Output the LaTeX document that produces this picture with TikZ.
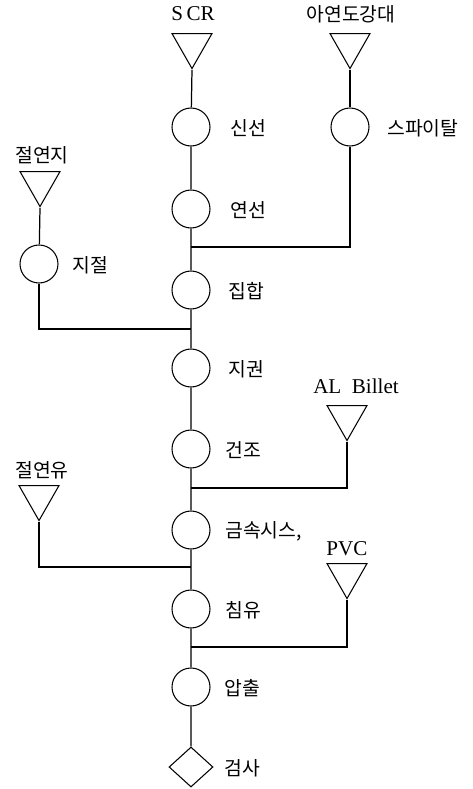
\documentclass[tikz,border=0pt]{standalone}
\usepackage{fontspec}
\setmainfont{Liberation Serif}
\newfontfamily\kr{Noto Sans CJK KR}
\usetikzlibrary{shapes.geometric}

\begin{document}
\begin{tikzpicture}[
    x=0.02cm, y=-0.02cm,
    proc/.style={
      draw, circle, minimum size=0.76cm, inner sep=0pt, line width=0.6pt
    },
    feed/.style={
      draw, isosceles triangle, shape border rotate=270,
      isosceles triangle stretches, minimum width=0.8cm, minimum height=0.7cm,
      inner sep=0pt, anchor=north, line width=0.6pt
    },
    insp/.style={
      draw, diamond, minimum width=0.88cm, minimum height=0.8cm,
      inner sep=0pt, line width=0.6pt
    },
    lbl/.style={font=\kr\fontsize{11}{13}\selectfont, anchor=west, inner sep=0pt},
    src/.style={font=\kr\fontsize{11}{13}\selectfont, inner sep=0pt},
    eng/.style={font=\fontsize{12}{14}\selectfont, inner sep=0pt},
    flow/.style={line width=0.7pt}
  ]
  \useasboundingbox (0,0) rectangle (473,789);

  % Raw material feeds
  \node[eng] (lscr) at (193,14) {S\,CR};
  \node[feed] (tscr) at (192,33) {};
  \node[src] (lzinc) at (351,14) {아연도강대};
  \node[feed] (tzinc) at (350,33) {};
  \node[src] (lpaper) at (42,155) {절연지};
  \node[feed] (tpaper) at (40,171) {};
  \node[eng] (lal) at (356,386) {AL\ \ Billet};
  \node[feed] (tal) at (347,405) {};
  \node[src] (loil) at (42,470) {절연유};
  \node[feed] (toil) at (39,485) {};
  \node[eng] (lpvc) at (347,549) {PVC};
  \node[feed] (tpvc) at (347,563) {};

  % Main process line
  \node[proc] (wire) at (191,127) {};
  \node[lbl] (nwire) at (230,128) {신선};
  \node[proc] (strand) at (191,209) {};
  \node[lbl] (nstrand) at (230,210) {연선};
  \node[proc] (bundle) at (191,290) {};
  \node[lbl] (nbundle) at (228,291) {집합};
  \node[proc] (wrap) at (191,368) {};
  \node[lbl] (nwrap) at (228,369) {지권};
  \node[proc] (dry) at (191,449) {};
  \node[lbl] (ndry) at (225,450) {건조};
  \node[proc] (sheath) at (191,530) {};
  \node[lbl] (nsheath) at (225,531) {금속시스,};
  \node[proc] (impreg) at (191,609) {};
  \node[lbl] (nimpreg) at (225,610) {침유};
  \node[proc] (extr) at (191,687) {};
  \node[lbl] (nextr) at (224,688) {압출};
  \node[insp] (test) at (191,767) {};
  \node[lbl] (ntest) at (224,768) {검사};

  % Side processes
  \node[proc] (spiral) at (350,127) {};
  \node[lbl] (nspiral) at (387,128) {스파이탈};
  \node[proc] (slit) at (39,264) {};
  \node[lbl] (nslit) at (72,265) {지절};

  % Junctions
  \coordinate (j1) at (191,247);
  \coordinate (j2) at (191,329);
  \coordinate (j3) at (191,488);
  \coordinate (j4) at (191,567);
  \coordinate (j5) at (191,647);

  % Lines
  \draw[flow] (tscr.apex) -- (wire) -- (strand) -- (bundle) -- (wrap)
    -- (dry) -- (sheath) -- (impreg) -- (extr) -- (test);
  \draw[flow] (tzinc.apex) -- (spiral);
  \draw[flow] (spiral.south) |- (j1);
  \draw[flow] (tpaper.apex) -- (slit);
  \draw[flow] (slit.south) |- (j2);
  \draw[flow] (tal.apex) |- (j3);
  \draw[flow] (toil.apex) |- (j4);
  \draw[flow] (tpvc.apex) |- (j5);

\end{tikzpicture}
\end{document}
